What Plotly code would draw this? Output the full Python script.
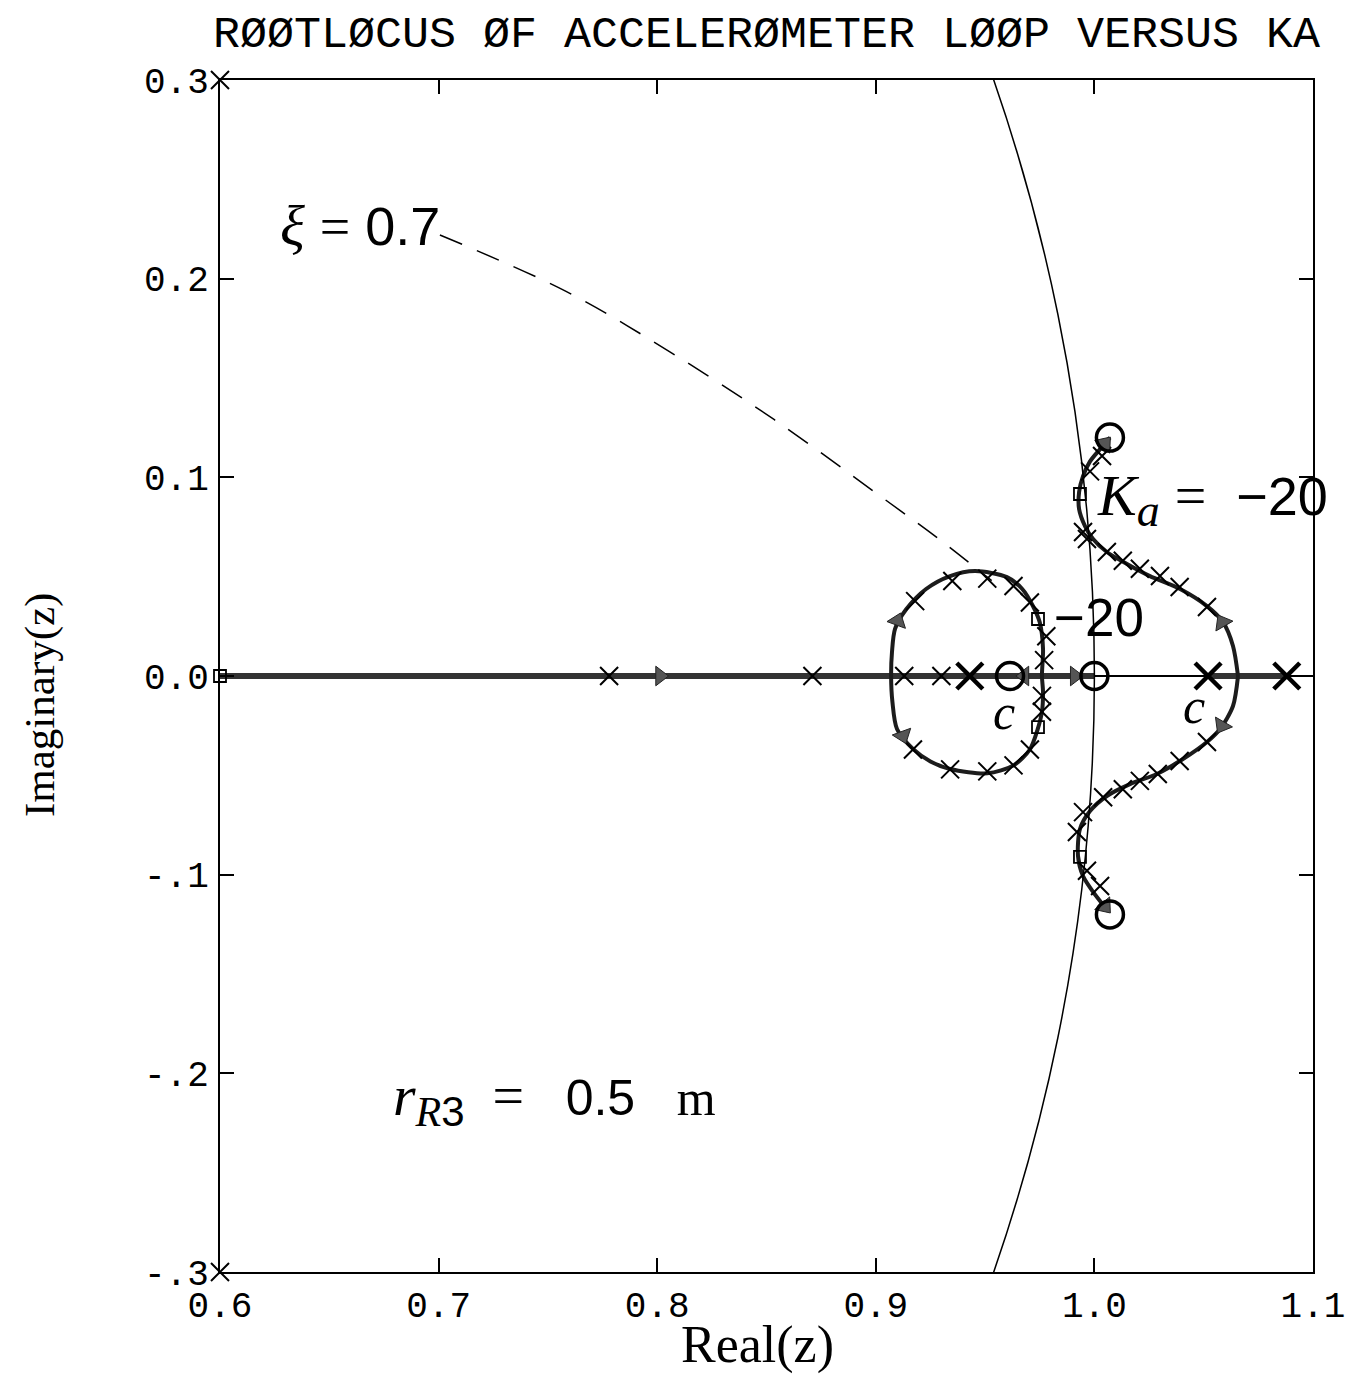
import plotly.graph_objects as go

# ---------------- data ----------------
x_tickvals = [0.6, 0.7, 0.8, 0.9, 1.0, 1.1]
x_ticktext = ["0.6", "0.7", "0.8", "0.9", "1.0", "1.1"]
y_tickvals = [-0.3, -0.2, -0.1, 0.0, 0.1, 0.2, 0.3]
y_ticktext = ["-.3", "-.2", "-.1", "0.0", "0.1", "0.2", "0.3"]

# real-axis parts of the locus
real_seg1_x = [0.6, 1.0]
real_seg1_y = [0.0, 0.0]
real_seg2_x = [1.052, 1.088]
real_seg2_y = [0.0, 0.0]

# closed loop left of z = 1
loop_x = [0.976, 0.9765, 0.975, 0.972, 0.967, 0.960, 0.9454, 0.934, 0.923, 0.914, 0.9088, 0.9074, 0.907,
          0.9076, 0.9097, 0.917, 0.925, 0.934, 0.951, 0.963, 0.9705, 0.974, 0.976, 0.9765, 0.976]
loop_y = [0.0, 0.0136, 0.027, 0.035, 0.0438, 0.0498, 0.0528, 0.0503, 0.0438, 0.0337, 0.0237, 0.012, 0.0,
          -0.013, -0.0267, -0.0367, -0.043, -0.0468, -0.049, -0.045, -0.037, -0.027, -0.018, -0.008, 0.0]

# S-shaped branches to the complex zeros
branch_up_x = [1.0657, 1.0634, 1.0588, 1.0515, 1.0392, 1.0254, 1.0149, 1.0057, 0.9994, 0.9957, 0.993,
               0.993, 0.9948, 0.998, 1.0026, 1.0071]
branch_up_y = [0.0, 0.0151, 0.0272, 0.0352, 0.0438, 0.0503, 0.0564, 0.0624, 0.069, 0.0755, 0.084,
               0.0926, 0.1006, 0.108, 0.1142, 0.120]
branch_dn_x = [1.0657, 1.0634, 1.0575, 1.0515, 1.0405, 1.0286, 1.0163, 1.0057, 0.998, 0.9934, 0.9925,
               0.9948, 0.9994, 1.0062]
branch_dn_y = [0.0, -0.0151, -0.0267, -0.0332, -0.0418, -0.0493, -0.0544, -0.0604, -0.068, -0.077, -0.0906,
               -0.1007, -0.1087, -0.1183]

# constant damping line xi = 0.7
zeta_x = [0.7006, 0.7583, 0.8056, 0.8536, 0.9021, 0.9300, 0.9530]
zeta_y = [0.2220, 0.1936, 0.1633, 0.1290, 0.0905, 0.0680, 0.0480]

# gain tick marks along the locus
gain_x = [0.778, 0.871, 0.913, 0.930,
          0.918, 0.935, 0.951, 0.963, 0.9705, 0.978, 0.977, 0.976, 0.976, 0.9705, 0.963, 0.951, 0.934, 0.917,
          1.0035, 0.998, 0.9948, 0.9966, 1.0057, 1.013, 1.0208, 1.030, 1.039, 1.0515,
          1.0515, 1.039, 1.029, 1.0208, 1.013, 1.004, 0.9948, 0.992, 0.9966, 1.0026]
gain_y = [0.0, 0.0, 0.0, 0.0,
          0.0377, 0.0478, 0.049, 0.0453, 0.037, 0.020, 0.008, -0.010, -0.018, -0.037, -0.045, -0.048, -0.047, -0.037,
          0.1107, 0.103, 0.0725, 0.069, 0.0624, 0.058, 0.054, 0.0503, 0.0448, 0.0347,
          -0.0332, -0.0428, -0.0493, -0.0528, -0.057, -0.061, -0.0685, -0.0785, -0.098, -0.1057]

# open-loop poles and zeros
pole_x = [0.943, 1.052, 1.088]
pole_y = [0.0, 0.0, 0.0]
edge_pole_x = [0.6, 0.6]
edge_pole_y = [0.3, -0.3]
zero_x = [0.9614, 1.0, 1.0071, 1.0071]
zero_y = [0.0, 0.0, 0.120, -0.120]

# Ka = -20 points
k20_x = [0.9742, 0.9742, 0.9934, 0.9934, 0.6]
k20_y = [0.0287, -0.0257, 0.0916, -0.091, 0.0]

# direction arrows
arrow_x = [0.8013, 0.910, 0.9124, 1.0585, 1.0583, 1.0048, 1.0048, 0.991, 0.968]
arrow_y = [0.0, 0.0277, -0.030, 0.027, -0.025, 0.117, -0.116, 0.0, 0.0]
arrow_symbol = ["triangle-right", "triangle-up", "triangle-down", "triangle-up", "triangle-down",
                "triangle-up", "triangle-down", "triangle-right", "triangle-left"]
arrow_angle = [0, 20, -20, -30, 30, 40, -40, 0, 0]

# ---------------- figure ----------------
fig = go.Figure()

locus_col = "#1c1c1c"
axis_col = "#333333"

fig.add_trace(go.Scatter(x=zeta_x, y=zeta_y, mode="lines",
                         line=dict(color="black", width=1.5, dash="24px,16px", shape="spline")))
fig.add_trace(go.Scatter(x=real_seg1_x, y=real_seg1_y, mode="lines", line=dict(color=axis_col, width=6)))
fig.add_trace(go.Scatter(x=real_seg2_x, y=real_seg2_y, mode="lines", line=dict(color=axis_col, width=6)))
fig.add_trace(go.Scatter(x=loop_x, y=loop_y, mode="lines",
                         line=dict(color=locus_col, width=4, shape="spline", smoothing=0.8)))
fig.add_trace(go.Scatter(x=branch_up_x, y=branch_up_y, mode="lines",
                         line=dict(color=locus_col, width=4, shape="spline", smoothing=0.8)))
fig.add_trace(go.Scatter(x=branch_dn_x, y=branch_dn_y, mode="lines",
                         line=dict(color=locus_col, width=4, shape="spline", smoothing=0.8)))

fig.add_trace(go.Scatter(x=gain_x, y=gain_y, mode="markers",
                         marker=dict(symbol="x-thin", size=18, color="black",
                                     line=dict(color="black", width=2))))
fig.add_trace(go.Scatter(x=arrow_x, y=arrow_y, mode="markers",
                         marker=dict(symbol=arrow_symbol, angle=arrow_angle, size=17, color="#555555",
                                     line=dict(color="#222222", width=1))))
fig.add_trace(go.Scatter(x=pole_x, y=pole_y, mode="markers",
                         marker=dict(symbol="x-thin", size=26, color="black",
                                     line=dict(color="black", width=4.5))))
fig.add_trace(go.Scatter(x=edge_pole_x, y=edge_pole_y, mode="markers", cliponaxis=False,
                         marker=dict(symbol="x-thin", size=18, color="black",
                                     line=dict(color="black", width=2))))
fig.add_trace(go.Scatter(x=zero_x, y=zero_y, mode="markers", cliponaxis=False,
                         marker=dict(symbol="circle-open", size=27, color="black",
                                     line=dict(color="black", width=3.5))))
fig.add_trace(go.Scatter(x=k20_x, y=k20_y, mode="markers", cliponaxis=False,
                         marker=dict(symbol="square-open", size=12, color="black",
                                     line=dict(color="black", width=1.8))))

# unit circle
fig.add_shape(type="circle", xref="x", yref="y", x0=-1, y0=-1, x1=1, y1=1,
              line=dict(color="black", width=1.5), layer="above")

mono = "Liberation Mono"
serif = "Liberation Serif"
sans = "Liberation Sans"

axis_common = dict(showgrid=False, ticks="inside", ticklen=14, tickwidth=1.5, tickcolor="black",
                   showline=True, linecolor="black", linewidth=2, mirror="ticks", automargin=False,
                   tickfont=dict(family=mono, size=36, color="black"))

# page has an 8px body margin: figure 1339x1370 fills the 1355x1386 window
FIG_W, FIG_H = 1339, 1370

fig.update_layout(
    width=FIG_W, height=FIG_H, autosize=False,
    margin=dict(l=212, r=34, t=72, b=106, autoexpand=False),
    plot_bgcolor="white", paper_bgcolor="white",
    showlegend=False,
    title=dict(text="RØØTLØCUS ØF ACCELERØMETER LØØP VERSUS KA",
               font=dict(family=mono, size=45, color="black"),
               x=0.5, xref="paper", y=1 - 23 / FIG_H, yref="container",
               xanchor="center", yanchor="middle"),
    xaxis=dict(range=[0.6, 1.1], tickvals=x_tickvals, ticktext=x_ticktext, zeroline=False,
               ticklabelstandoff=0, **axis_common),
    yaxis=dict(range=[-0.3, 0.3], tickvals=y_tickvals, ticktext=y_ticktext,
               zeroline=True, zerolinecolor="black", zerolinewidth=1.5,
               ticklabelstandoff=2, **axis_common),
)


def serif_span(txt, size=None):
    style = "font-family:'Liberation Serif'"
    if size:
        style += ";font-size:%dpx" % size
    return "<span style=\"" + style + "\">" + txt + "</span>"


annotations = [
    dict(text="Real(z)", xref="paper", yref="paper", x=(757 - 220) / 1093, y=(1272 - 1345) / 1192,
         showarrow=False, font=dict(family=serif, size=52, color="black"),
         xanchor="center", yanchor="middle"),
    dict(text="Imaginary(z)", xref="paper", yref="paper", x=(40 - 220) / 1093, y=(1272 - 705) / 1192,
         showarrow=False, textangle=-90, font=dict(family=serif, size=43, color="black"),
         xanchor="center", yanchor="middle"),
    dict(text=serif_span("<i>ξ</i>", 58) + " " + serif_span("=") + " 0.7",
         xref="x", yref="y", x=0.7015, y=0.227, showarrow=False,
         font=dict(family=sans, size=54, color="black"), xanchor="right", yanchor="middle"),
    dict(text=serif_span("<i>K</i>", 58) + "<sub>" + serif_span("<i>a</i>", 46) + "</sub>"
              + " " + serif_span("=", 56) + "  −20",
         xref="x", yref="y", x=1.0003, y=0.089, showarrow=False,
         font=dict(family=sans, size=54, color="black"), xanchor="left", yanchor="middle"),
    dict(text="−20", xref="x", yref="y", x=0.9805, y=0.0295, showarrow=False,
         font=dict(family=sans, size=53, color="black"), xanchor="left", yanchor="middle"),
    dict(text="<i>c</i>", xref="x", yref="y", x=0.9585, y=-0.018, showarrow=False,
         font=dict(family=serif, size=50, color="black"), xanchor="center", yanchor="middle"),
    dict(text="<i>c</i>", xref="x", yref="y", x=1.0455, y=-0.015, showarrow=False,
         font=dict(family=serif, size=50, color="black"), xanchor="center", yanchor="middle"),
    dict(text=serif_span("<i>r</i>", 58) + "<sub>" + serif_span("<i>R</i>", 42)
              + "<span style=\"font-size:42px\">3</span></sub>"
              + "  " + serif_span("=", 56) + "   0.5   " + serif_span("m", 50),
         xref="x", yref="y", x=0.678, y=-0.213, showarrow=False,
         font=dict(family=sans, size=50, color="black"), xanchor="left", yanchor="middle"),
]
fig.update_layout(annotations=annotations)

fig.write_html("out.html")
